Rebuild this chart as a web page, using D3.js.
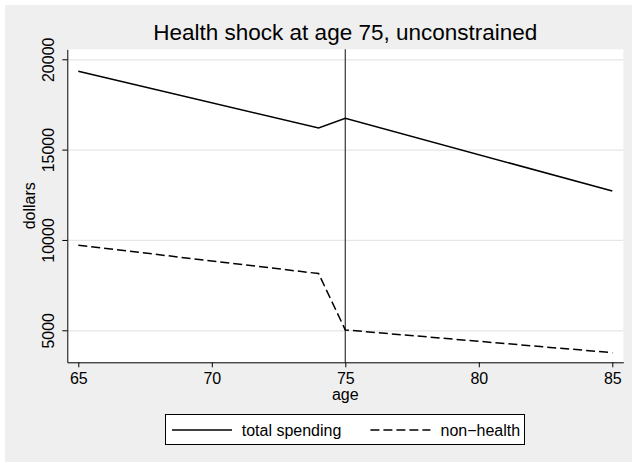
<!DOCTYPE html>
<html>
<head>
<meta charset="utf-8">
<script src="https://cdn.jsdelivr.net/npm/d3@7"></script>
<style>
  body { margin: 0; background: #fff; }
  svg { display: block; font-family: "Liberation Sans", Arial, Helvetica, sans-serif; }
</style>
</head>
<body>
<div id="chart"></div>
<script>
// data (vertices of the lines)
const totalAges = [65, 74, 75, 85];
const totalSpending = [19340, 16200, 16730, 12710];
const nonHealthAges = [65, 74, 75, 85];
const nonHealth = [9710, 8140, 5020, 3760];
const ageTicks = [65, 70, 75, 80, 85];
const dollarTicks = [5000, 10000, 15000, 20000];
const shockAge = 75;

const width = 632, height = 463;
const plot = { left: 67.3, right: 623.3, top: 49.3, bottom: 362.3 };

const svg = d3.select("#chart").append("svg")
  .attr("width", width)
  .attr("height", height);

// outer gray background
svg.append("rect")
  .attr("x", 5).attr("y", 5)
  .attr("width", width - 5).attr("height", height - 6)
  .attr("fill", "#efefef");

// white plot region
svg.append("rect")
  .attr("x", plot.left).attr("y", plot.top)
  .attr("width", plot.right - plot.left).attr("height", plot.bottom - plot.top)
  .attr("fill", "#fff");

const x = d3.scaleLinear().domain([64.588, 85.412]).range([plot.left, plot.right]);
const y = d3.scaleLinear().domain([3228, 20553]).range([plot.bottom, plot.top]);

// gridlines
svg.append("g")
  .attr("class", "grid")
  .attr("transform", `translate(${plot.left},0)`)
  .call(d3.axisLeft(y).tickValues(dollarTicks).tickSize(-(plot.right - plot.left)).tickFormat(""))
  .call(g => g.select(".domain").remove())
  .call(g => g.selectAll("line").attr("stroke", "#e6e6e6").attr("stroke-width", 1.3));

// vertical line at shock age
svg.append("line")
  .attr("x1", x(shockAge)).attr("x2", x(shockAge))
  .attr("y1", plot.top).attr("y2", plot.bottom)
  .attr("stroke", "#444")
  .attr("stroke-width", 1.3);

// series lines
const line = d3.line().x(d => x(d[0])).y(d => y(d[1]));

svg.append("path")
  .datum(d3.zip(totalAges, totalSpending))
  .attr("d", line)
  .attr("fill", "none")
  .attr("stroke", "#000")
  .attr("stroke-width", 1.5);

svg.append("path")
  .datum(d3.zip(nonHealthAges, nonHealth))
  .attr("d", line)
  .attr("fill", "none")
  .attr("stroke", "#000")
  .attr("stroke-width", 1.5)
  .attr("stroke-dasharray", "9,4");

// x axis
svg.append("g")
  .attr("class", "axis")
  .attr("transform", `translate(0,${plot.bottom})`)
  .call(d3.axisBottom(x).tickValues(ageTicks).tickSize(5).tickSizeOuter(0))
  .call(g => g.selectAll("text")
    .attr("y", 22).attr("dy", 0)
    .attr("fill", "#000")
    .style("font-size", "16px"));

// y axis with rotated labels
svg.append("g")
  .attr("class", "axis")
  .attr("transform", `translate(${plot.left},0)`)
  .call(d3.axisLeft(y).tickValues(dollarTicks).tickSize(5).tickSizeOuter(0).tickFormat(d3.format("d")))
  .call(g => g.selectAll("text")
    .attr("transform", "rotate(-90)")
    .attr("x", 0).attr("y", -13).attr("dy", 0)
    .attr("text-anchor", "middle")
    .attr("fill", "#000")
    .style("font-size", "16px"));

svg.selectAll(".axis .domain, .axis .tick line").attr("stroke", "#000");

// title and axis titles
svg.append("text")
  .attr("x", (plot.left + plot.right) / 2)
  .attr("y", 40)
  .attr("text-anchor", "middle")
  .style("font-size", "22.5px")
  .text("Health shock at age 75, unconstrained");

svg.append("text")
  .attr("x", x(75))
  .attr("y", 400)
  .attr("text-anchor", "middle")
  .style("font-size", "16px")
  .text("age");

svg.append("text")
  .attr("transform", `translate(35.3,${(plot.top + plot.bottom) / 2}) rotate(-90)`)
  .attr("text-anchor", "middle")
  .style("font-size", "16px")
  .text("dollars");

// legend
const legend = svg.append("g");
legend.append("rect")
  .attr("x", 165.5).attr("y", 414.5)
  .attr("width", 359).attr("height", 30)
  .attr("fill", "#fff")
  .attr("stroke", "#000")
  .attr("stroke-width", 1);

const legendItems = [
  { label: "total spending", x0: 172, x1: 232, tx: 241.7, dash: null },
  { label: "non\u2212health", x0: 370.4, x1: 430.4, tx: 440.5, dash: "9,4" }
];
legendItems.forEach(d => {
  legend.append("line")
    .attr("x1", d.x0).attr("x2", d.x1)
    .attr("y1", 430).attr("y2", 430)
    .attr("stroke", "#000")
    .attr("stroke-width", 1.5)
    .attr("stroke-dasharray", d.dash);
  legend.append("text")
    .attr("x", d.tx).attr("y", 435.8)
    .style("font-size", "16px")
    .text(d.label);
});
</script>
</body>
</html>
